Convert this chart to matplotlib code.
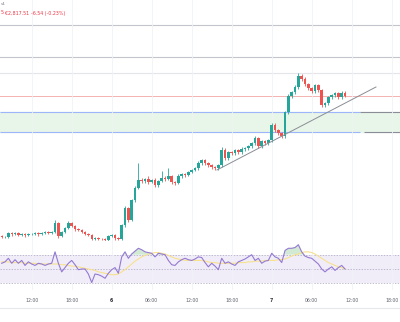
import matplotlib
matplotlib.use("Agg")
import matplotlib.pyplot as plt
from matplotlib.lines import Line2D
import numpy as np

# 30 minute candles, time in hours counted from midnight of the 5th
start_hour = 7.5
first_open = 2537.0
closes = [
    2535.5, 2535.5, 2543.5, 2541.5, 2543.5, 2539.5, 2541.5, 2539.5, 2541.5, 2541.5,
    2543.5, 2541.5, 2543.5, 2545.5, 2543.5, 2545.5, 2563.5, 2537.5, 2545.5, 2553.5,
    2563.5, 2557.5, 2551.5, 2549.5, 2545.5, 2541.5, 2539.5, 2531.0, 2533.5, 2531.5,
    2531.0, 2530.5, 2537.5, 2539.5, 2533.5, 2531.5, 2559.5, 2593.5, 2569.5, 2609.5,
    2633.5, 2649.5, 2647.5, 2651.5, 2645.5, 2649.5, 2639.5, 2647.5, 2653.5, 2651.5,
    2657.5, 2645.5, 2643.5, 2657.5, 2661.5, 2659.5, 2665.5, 2669.5, 2673.5, 2683.5,
    2689.5, 2683.5, 2679.5, 2675.5, 2673.5, 2679.5, 2709.5, 2693.5, 2705.5, 2703.5,
    2709.5, 2705.5, 2711.5, 2713.5, 2717.5, 2723.5, 2733.5, 2717.5, 2727.5, 2723.5,
    2729.5, 2759.5, 2749.5, 2743.5, 2737.0, 2785.5, 2817.5, 2825.5, 2835.0, 2857.5,
    2851.5, 2841.5, 2833.5, 2827.5, 2839.5, 2829.5, 2799.5, 2803.5, 2815.5, 2819.5,
    2823.5, 2815.5, 2824.05, 2817.51,
]
upper_wick = [
    2, 3, 2, 2, 3, 2, 2, 2, 3, 2, 2, 2, 3, 2, 2, 2, 6, 3, 2, 2,
    4, 2, 2, 2, 2, 2, 2, 2, 3, 2, 2, 2, 3, 2, 2, 2, 3, 4, 3, 3,
    4, 34, 4, 3, 6, 3, 4, 3, 14, 4, 16, 3, 3, 4, 3, 3, 3, 3, 3, 4,
    3, 3, 3, 3, 2, 3, 6, 4, 3, 3, 3, 3, 4, 3, 3, 3, 4, 3, 3, 3,
    3, 5, 4, 3, 3, 3, 5, 3, 4, 6, 5, 4, 3, 3, 3, 3, 3, 3, 3, 3,
    3, 3, 3, 3,
]
lower_wick = [
    2, 2, 2, 3, 2, 2, 2, 3, 2, 2, 2, 3, 2, 2, 2, 2, 2, 3, 2, 2,
    2, 2, 3, 2, 2, 2, 2, 2, 2, 2, 2, 2, 2, 2, 3, 2, 2, 3, 3, 2,
    3, 2, 3, 3, 3, 2, 4, 3, 2, 3, 2, 3, 3, 2, 3, 3, 2, 2, 2, 3,
    3, 3, 3, 3, 3, 4, 3, 4, 3, 3, 3, 3, 3, 3, 3, 3, 3, 3, 3, 3,
    3, 4, 3, 3, 3, 3, 3, 3, 3, 3, 4, 3, 3, 3, 3, 3, 4, 4.5, 3, 3,
    3, 3, 3, 3,
]

rsi = [
    58, 60, 65, 58, 63, 58, 62, 55, 60, 57, 55, 58, 57, 55, 57, 58, 74, 58, 46, 52,
    58, 62, 56, 49, 50, 50, 43, 31, 43, 42, 40, 37, 44, 49, 52, 44, 67, 74, 65, 71,
    75, 79, 77, 74, 73, 72, 67, 72, 71, 70, 62, 56, 55, 60, 63, 65, 63, 62, 64, 67,
    66, 59, 53, 58, 54, 49, 65, 58, 60, 57, 55, 60, 62, 64, 67, 70, 62, 65, 58, 61,
    62, 72, 67, 65, 59, 76, 79, 79, 80, 84, 74, 68, 66, 65, 61, 57, 50, 46, 50, 53,
    48, 52, 55, 50,
]
rsi_ma = [
    60, 60, 60, 59, 59, 59, 59, 58, 58, 58, 58, 57, 57, 57, 57, 57, 57, 57, 56, 56,
    55, 54, 54, 53, 52, 51, 50, 49, 48, 46, 45, 44, 43, 42, 42, 43, 46, 49, 53, 57,
    61, 64, 67, 69, 71, 72, 73, 73, 72, 71, 69, 67, 65, 64, 63, 62, 62, 62, 62, 62,
    62, 61, 60, 59, 59, 58, 58, 58, 58, 58, 58, 59, 59, 59, 60, 60, 61, 61, 61, 62,
    62, 62, 62, 63, 63, 64, 66, 68, 70, 71, 73, 74, 74, 73, 71, 68, 65, 62, 59, 57,
    55, 53, 52, 50,
]

tick_hours = [12, 18, 24, 30, 36, 42, 48, 54, 60, 66]
tick_labels = ["12:00", "18:00", "6", "06:00", "12:00", "18:00", "7", "06:00", "12:00", "18:00"]

# drawn levels
grey_levels = [2959.5, 2895.5]
faint_level = 2863.5
last_price = 2817.51
zone_top, zone_bottom = 2785.5, 2745.5
trend_start = (39.79, 2669.5)
trend_end = (63.64, 2835.5)

x_left, x_right = 7.245, 67.245

hours = start_hour + 0.5 * np.arange(len(closes))
closes = np.array(closes)
opens = np.concatenate([[first_open], closes[:-1]])
highs = np.maximum(opens, closes) + np.array(upper_wick)
lows = np.minimum(opens, closes) - np.array(lower_wick)
up = closes >= opens
colors = np.where(up, "#26a69a", "#ef5350")

W, H = 400, 322
fig = plt.figure(figsize=(4, 3.22), dpi=100)
fig.patch.set_facecolor("white")

ax = fig.add_axes([0, 1 - 241 / H, 1, 241 / H])
rax = fig.add_axes([0, (H - 290) / H, 1, 49 / H])

# price panel
ax.set_xlim(x_left, x_right)
ax.set_ylim(2527.5, 3009.5)
ax.axhspan(zone_bottom, zone_top, color="#e8f5e9", zorder=0)
ax.hlines([zone_top, zone_bottom], x_left, 61.3, color="#9db5fb", lw=0.8, zorder=1)
ax.hlines(zone_top, 61.3, x_right, color="#8a8d96", lw=0.8, zorder=1)
ax.hlines(zone_bottom, 61.85, x_right, color="#8a8d96", lw=0.8, zorder=1)
for lv in grey_levels:
    ax.axhline(lv, color="#c3c5cc", lw=0.8, zorder=1)
ax.axhline(faint_level, color="#e3e5ea", lw=0.8, zorder=1)
ax.axhline(last_price, color="#f3b2b0", lw=0.7, zorder=1)

ax.vlines(hours, lows, highs, colors=colors, lw=0.6, zorder=3)
body = np.abs(closes - opens)
body = np.where(body < 1.0, 1.0, body)
ax.bar(hours, body, bottom=np.minimum(opens, closes), width=0.36,
       color=colors, linewidth=0, zorder=4)

ax.plot([trend_start[0], trend_end[0]], [trend_start[1], trend_end[1]],
        color="#8a8d96", lw=0.7, zorder=5)

ax.set_xticks(tick_hours)
ax.set_xticklabels([])
ax.set_yticks([])
ax.tick_params(length=0)
ax.grid(axis="x", color="#f0f2f6", lw=0.6, zorder=0)
for s in ["top", "left", "right"]:
    ax.spines[s].set_visible(False)
ax.spines["bottom"].set_color("#e6e8ec")
ax.spines["bottom"].set_linewidth(0.6)

# RSI panel
rsi = np.array(rsi, dtype=float)
rax.set_xlim(x_left, x_right)
rax.set_ylim(20.6, 89.2)
rax.axhspan(30, 70, color="#7e57c2", alpha=0.1, lw=0, zorder=0)
for lv in [70, 50, 30]:
    rax.axhline(lv, color="#a9a5bd", lw=0.5, ls=(0, (2, 2)), zorder=1)
rax.fill_between(hours, rsi, 70, where=rsi > 70, interpolate=True,
                 color="#4caf50", alpha=0.25, lw=0, zorder=2)
rax.fill_between(hours, rsi, 30, where=rsi < 30, interpolate=True,
                 color="#ef5350", alpha=0.25, lw=0, zorder=2)
rax.plot(hours, rsi_ma, color="#f7e18f", lw=0.8, zorder=3)
rax.plot(hours, rsi, color="#9479d2", lw=0.8, zorder=4)

rax.set_xticks(tick_hours)
rax.set_xticklabels(tick_labels, fontsize=3.3, color="#5d606b")
for lbl, txt in zip(rax.get_xticklabels(), tick_labels):
    if len(txt) == 1:
        lbl.set_fontweight("bold")
        lbl.set_color("#2a2e39")
rax.set_yticks([])
rax.tick_params(length=0, pad=5.5)
rax.grid(axis="x", color="#f0f2f6", lw=0.6, zorder=0)
for s in rax.spines.values():
    s.set_visible(False)

# bottom border under the time scale
fig.add_artist(Line2D([0, 1], [1 - 308 / H, 1 - 308 / H], transform=fig.transFigure,
                      color="#e6e8ec", lw=0.8))

# legend row
fig.text(1 / W, 1 - 4 / H, "v1", fontsize=3.0, color="#787b86", va="center")
fig.text(1 / W, 1 - 13 / H, "5", fontsize=3.4, color="#f23645", va="center")
fig.text(5 / W, 1 - 13 / H, "€2,817.51", fontsize=3.4, color="#f23645", va="center")
fig.text(31 / W, 1 - 13 / H, "-6.54 (-0.23%)", fontsize=3.4, color="#f23645", va="center")

fig.savefig("out.png", dpi=100, facecolor="white")
